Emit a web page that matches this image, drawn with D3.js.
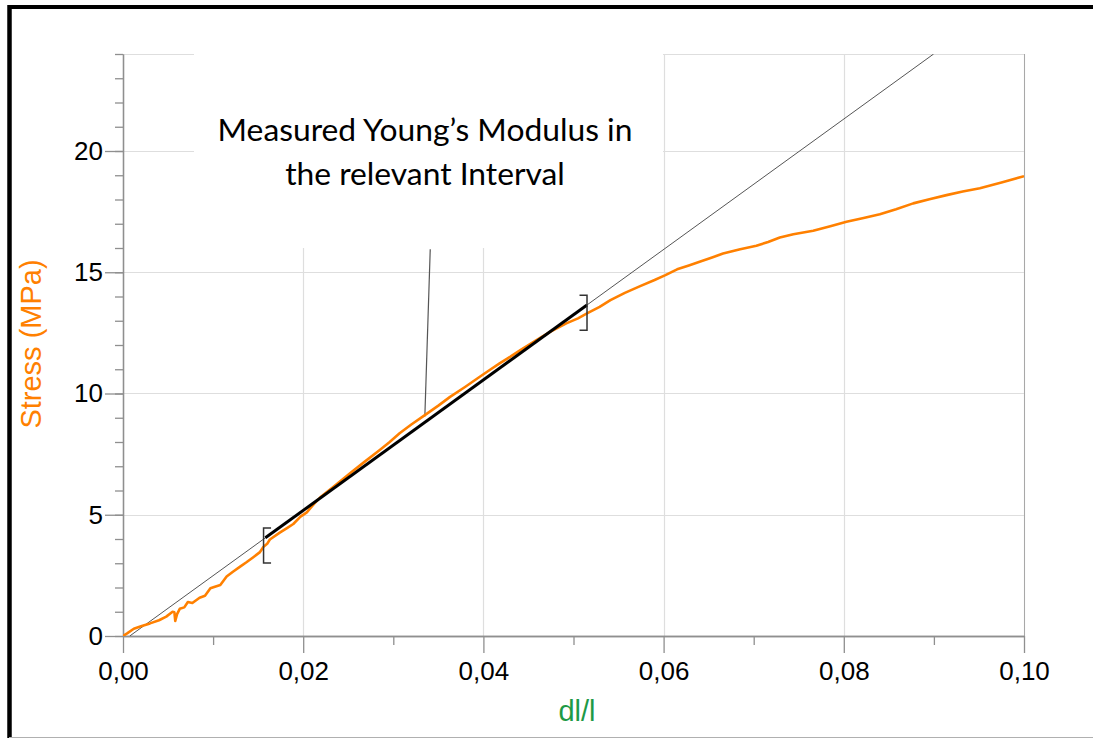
<!DOCTYPE html>
<html>
<head>
<meta charset="utf-8">
<script src="https://cdn.jsdelivr.net/npm/d3@7"></script>
<style>
  html, body { margin: 0; padding: 0; background: #fff; }
  svg { display: block; }
</style>
</head>
<body>
<svg id="chart" width="1093" height="738"></svg>
<script>
// ---------------- DATA ----------------
const strain = [0, 0.0005, 0.0012, 0.0020, 0.0030, 0.0040, 0.0048, 0.0055, 0.0057, 0.0058, 0.0060, 0.0063,
  0.0068, 0.0072, 0.0077, 0.0085, 0.0091, 0.0097, 0.0102, 0.0108, 0.0115, 0.0122, 0.0130, 0.0137,
  0.0145, 0.0152, 0.0156, 0.0160, 0.0163, 0.0174, 0.0182, 0.0189, 0.0197, 0.0204, 0.0212, 0.0219,
  0.0235, 0.0252, 0.0268, 0.0285, 0.0296, 0.0307, 0.0320, 0.0335, 0.0350, 0.0363, 0.0380, 0.0396,
  0.0407, 0.0418, 0.0430, 0.0441, 0.0458, 0.0474, 0.0492, 0.0505, 0.0515, 0.0529, 0.0541, 0.0557,
  0.0574, 0.0590, 0.0602, 0.0615, 0.0628, 0.0640, 0.0653, 0.0666, 0.0685, 0.0703, 0.0716, 0.0729,
  0.0744, 0.0766, 0.0785, 0.0803, 0.0822, 0.0840, 0.0858, 0.0877, 0.0895, 0.0914, 0.0932, 0.0951,
  0.0975, 0.1000];
const stress = [0, 0.12, 0.30, 0.40, 0.52, 0.65, 0.80, 1.00, 0.98, 0.62, 0.90, 1.12,
  1.18, 1.40, 1.36, 1.58, 1.66, 1.97, 2.03, 2.10, 2.45, 2.65, 2.86, 3.04,
  3.26, 3.46, 3.68, 3.80, 3.98, 4.26, 4.45, 4.62, 4.92, 5.10, 5.45, 5.72,
  6.20, 6.71, 7.18, 7.67, 8.00, 8.36, 8.72, 9.11, 9.50, 9.86, 10.28, 10.69,
  10.97, 11.24, 11.52, 11.79, 12.18, 12.54, 12.89, 13.10, 13.30, 13.57, 13.85, 14.15,
  14.43, 14.68, 14.88, 15.12, 15.28, 15.43, 15.60, 15.77, 15.95, 16.09, 16.25, 16.43,
  16.57, 16.71, 16.90, 17.08, 17.24, 17.39, 17.60, 17.84, 18.01, 18.18, 18.33, 18.46,
  18.70, 18.96];

// linear fit (Young's modulus): stress = modulus * (strain - strainOffset)
const modulus = 269;          // MPa
const strainOffset = 0.00075;
const fitInterval = [0.0158, 0.0515];   // relevant interval (thick segment)

// interval brackets [strain, stress at centre]
const brackets = [
  { strain: 0.0156, stress: 3.73, side: "left" },
  { strain: 0.0515, stress: 13.33, side: "right" }
];

// annotation pointer line (from curve to text box)
const pointer = [[0.0335, 9.05], [0.0341, 15.95]];

const xMajor = [0, 0.02, 0.04, 0.06, 0.08, 0.10];
const xMajorLabels = ["0,00", "0,02", "0,04", "0,06", "0,08", "0,10"];
const xMinor = [0.01, 0.03, 0.05, 0.07, 0.09];
const yMajor = [0, 5, 10, 15, 20];
const yMajorLabels = ["0", "5", "10", "15", "20"];
const yMinor = d3.range(0, 25, 1);

const titleLines = ["Measured Young\u2019s Modulus in", "the relevant Interval"];
const xTitle = "dl/l";
const yTitle = "Stress (MPa)";

// ---------------- LAYOUT ----------------
const svg = d3.select("#chart");
const L = 123, R = 1024, T = 54, B = 636;
const x = d3.scaleLinear().domain([0, 0.10]).range([L, R]);
const y = d3.scaleLinear().domain([0, 24]).range([B, T]);

const gridColor = "#dedede";
const axisColor = "#8f8f8f";
const orange = "#ff8000";
const green = "#1e9a46";

// outer frame
svg.append("line").attr("x1", 9.5).attr("x2", 1093).attr("y1", 7).attr("y2", 7)
  .attr("stroke", "#000").attr("stroke-width", 4);
svg.append("line").attr("x1", 9.5).attr("x2", 9.5).attr("y1", 5).attr("y2", 738)
  .attr("stroke", "#000").attr("stroke-width", 4.5);
svg.append("line").attr("x1", 9).attr("x2", 1093).attr("y1", 737.5).attr("y2", 737.5)
  .attr("stroke", "#b0b0b0").attr("stroke-width", 1);

// grid
const grid = svg.append("g");
grid.selectAll(".hg").data(yMajor.slice(1).concat([24])).enter().append("line")
  .attr("x1", L).attr("x2", R)
  .attr("y1", d => Math.round(y(d)) + 0.5).attr("y2", d => Math.round(y(d)) + 0.5)
  .attr("stroke", gridColor).attr("stroke-width", 1.2);
grid.selectAll(".vg").data(xMajor.slice(1)).enter().append("line")
  .attr("x1", d => Math.round(x(d)) + 0.5).attr("x2", d => Math.round(x(d)) + 0.5)
  .attr("y1", T).attr("y2", B)
  .attr("stroke", gridColor).attr("stroke-width", 1.2);
// right border of plot
svg.append("line").attr("x1", R + 0.5).attr("x2", R + 0.5).attr("y1", T).attr("y2", B)
  .attr("stroke", "#a8a8a8").attr("stroke-width", 1);

// white text box covering grid
svg.append("rect").attr("x", 194).attr("y", T - 1).attr("width", 663 - 194).attr("height", 248 - T + 1)
  .attr("fill", "#fff");

// axes
const yMinorAxis = d3.axisLeft(y).tickValues(yMinor).tickSize(8).tickSizeOuter(0).tickFormat("");
const yMajorAxis = d3.axisLeft(y).tickValues(yMajor).tickSize(18).tickSizeOuter(0).tickPadding(2)
  .tickFormat((d, i) => yMajorLabels[i]);
const xMinorAxis = d3.axisBottom(x).tickValues(xMinor).tickSize(9).tickSizeOuter(0).tickFormat("");
const xMajorAxis = d3.axisBottom(x).tickValues(xMajor).tickSize(17).tickSizeOuter(0).tickPadding(9)
  .tickFormat((d, i) => xMajorLabels[i]);

function styleAxis(g) {
  g.select(".domain").attr("stroke", axisColor).attr("stroke-width", 1.3);
  g.selectAll(".tick line").attr("stroke", axisColor).attr("stroke-width", 1.3);
  g.selectAll(".tick text").attr("fill", "#000")
    .style("font-family", "'Liberation Sans', Arial, sans-serif").style("font-size", "26px");
}
svg.append("g").attr("transform", `translate(${L},0)`).call(yMinorAxis).call(styleAxis);
svg.append("g").attr("transform", `translate(${L},0)`).call(yMajorAxis).call(styleAxis);
svg.append("g").attr("transform", `translate(0,${B})`).call(xMinorAxis).call(styleAxis);
svg.append("g").attr("transform", `translate(0,${B})`).call(xMajorAxis).call(styleAxis);

// axis titles
svg.append("text").text(yTitle)
  .attr("transform", `translate(41,344) rotate(-90)`)
  .attr("text-anchor", "middle")
  .attr("fill", orange)
  .style("font-family", "'Liberation Sans', Arial, sans-serif").style("font-size", "29px");
svg.append("text").text(xTitle)
  .attr("x", 577).attr("y", 721)
  .attr("text-anchor", "middle")
  .attr("fill", green)
  .style("font-family", "'Liberation Sans', Arial, sans-serif").style("font-size", "29px");

// title text in box
const tt = svg.append("g");
const t1 = tt.append("text").text(titleLines[0]).attr("x", 425).attr("y", 141)
  .attr("text-anchor", "middle").attr("fill", "#000")
  .style("font-family", "Lato, 'Open Sans', sans-serif").style("font-size", "30px");
const len = t1.node().getComputedTextLength();
const fs = 30 * 415 / len;
t1.style("font-size", fs + "px");
tt.append("text").text(titleLines[1]).attr("x", 425).attr("y", 185)
  .attr("text-anchor", "middle").attr("fill", "#000")
  .style("font-family", "Lato, 'Open Sans', sans-serif").style("font-size", fs + "px");

// plot clip
svg.append("clipPath").attr("id", "plotclip").append("rect")
  .attr("x", L).attr("y", T).attr("width", R - L).attr("height", B - T);

// thin fit line across the whole range
const fitLine = d3.line().x(d => x(d[0])).y(d => y(d[1]));
const fitTop = strainOffset + 24 / modulus;
svg.append("path")
  .datum([[strainOffset, 0], [fitTop, 24]])
  .attr("d", fitLine)
  .attr("fill", "none").attr("stroke", "#555").attr("stroke-width", 1)
  .attr("clip-path", "url(#plotclip)");

// pointer line
svg.append("path").datum(pointer).attr("d", fitLine)
  .attr("fill", "none").attr("stroke", "#555").attr("stroke-width", 1.2);

// measured curve
const pts = strain.map((s, i) => [s, stress[i]]);
svg.append("path").datum(pts)
  .attr("d", d3.line().x(d => x(d[0])).y(d => y(d[1])))
  .attr("fill", "none").attr("stroke", orange).attr("stroke-width", 2.6)
  .attr("stroke-linejoin", "round")
  .attr("clip-path", "url(#plotclip)");

// thick fit segment in the relevant interval
svg.append("path")
  .datum(fitInterval.map(s => [s, modulus * (s - strainOffset)]))
  .attr("d", fitLine)
  .attr("fill", "none").attr("stroke", "#000").attr("stroke-width", 3);

// brackets
const bh = 17.5, bw = 7.5;
brackets.forEach(b => {
  const bx = x(b.strain), by = y(b.stress);
  const dir = b.side === "left" ? 1 : -1;
  svg.append("path")
    .attr("d", `M${bx + dir * bw},${by - bh} H${bx} V${by + bh} H${bx + dir * bw}`)
    .attr("fill", "none").attr("stroke", "#333").attr("stroke-width", 1.5);
});
</script>
</body>
</html>
